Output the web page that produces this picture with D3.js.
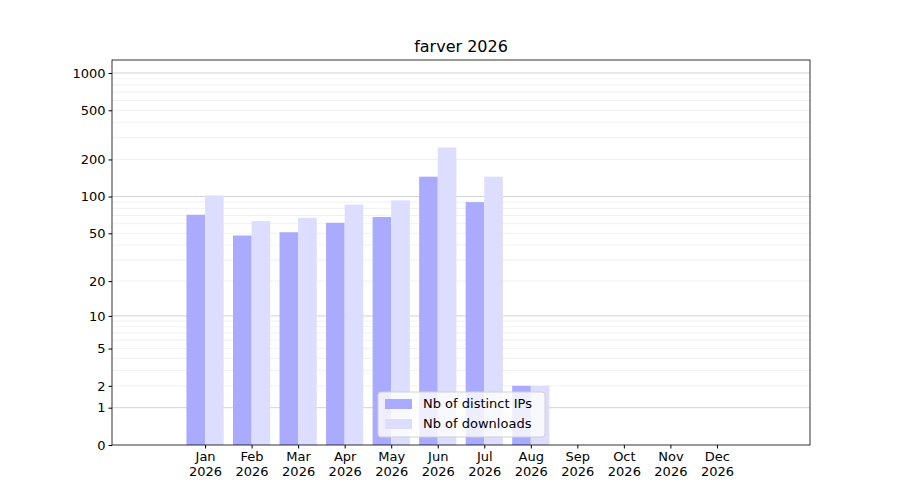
<!DOCTYPE html>
<html><head><meta charset="utf-8">
<script src="https://cdn.jsdelivr.net/npm/d3@7"></script>
<style>body{margin:0;background:#fff}text{font-family:"DejaVu Sans",sans-serif}</style>
</head><body><svg width="900" height="500"></svg>
<script>
const months = ["Jan","Feb","Mar","Apr","May","Jun","Jul","Aug","Sep","Oct","Nov","Dec"];
const ips = [71,48,51,61,68,145,90,2,0,0,0,0];
const downloads = [102,63,67,86,93,250,145,2,0,0,0,0];
const yTicks = [0,1,2,5,10,20,50,100,200,500,1000];

const svg = d3.select("svg");
const mLeft = 112, mRight = 810, mTop = 60, mBottom = 445;

const x = d3.scalePoint().domain(months).range([mLeft, mRight]).padding(2);
const y = d3.scaleSymlog().constant(1).domain([0, 1274]).range([mBottom, mTop]);
const bw = x.step() * 0.4;

// grid
const minor = [];
[1,10,100,1000].forEach(p => { for (let k = 2; k <= 9; k++) if (p*k < 1274) minor.push(p*k); });
svg.append("g").selectAll("line").data(minor).enter().append("line")
    .attr("x1", mLeft).attr("x2", mRight)
    .attr("y1", d => y(d)).attr("y2", d => y(d))
    .attr("stroke", "#eeeeee").attr("stroke-width", 0.8);
svg.append("g").selectAll("line").data([1,10,100,1000]).enter().append("line")
    .attr("x1", mLeft).attr("x2", mRight)
    .attr("y1", d => y(d)).attr("y2", d => y(d))
    .attr("stroke", "#c8c8c8").attr("stroke-width", 0.8);

svg.append("g").selectAll("rect").data(ips).enter().append("rect")
    .attr("x", (d, i) => x(months[i]) - bw).attr("width", bw)
    .attr("y", d => y(d)).attr("height", d => mBottom - y(d))
    .attr("fill", "#aaaaff");
svg.append("g").selectAll("rect").data(downloads).enter().append("rect")
    .attr("x", (d, i) => x(months[i])).attr("width", bw)
    .attr("y", d => y(d)).attr("height", d => mBottom - y(d))
    .attr("fill", "#ddddff");

// axes
const yAxis = svg.append("g").attr("transform", `translate(${mLeft},0)`)
    .call(d3.axisLeft(y).tickValues(yTicks).tickFormat(d3.format("d")).tickSizeOuter(0).tickSize(3.5));
const xAxis = svg.append("g").attr("transform", `translate(0,${mBottom})`)
    .call(d3.axisBottom(x).tickSizeOuter(0).tickSize(3.5));
[yAxis, xAxis].forEach(g => {
    g.select(".domain").remove();
    g.selectAll("text").attr("font-size", 13).attr("fill", "#000").style("font-family", "DejaVu Sans");
});
xAxis.selectAll(".tick text").each(function(d) {
    const t = d3.select(this).text(null).attr("y", 7);
    t.append("tspan").attr("x", 0).attr("dy", "0.71em").text(d);
    t.append("tspan").attr("x", 0).attr("dy", "1.15em").text("2026");
});
svg.append("rect").attr("x", mLeft).attr("y", mTop).attr("width", mRight-mLeft).attr("height", mBottom-mTop)
    .attr("fill", "none").attr("stroke", "#000").attr("stroke-width", 0.8);

svg.append("text").attr("x", (mLeft+mRight)/2).attr("y", 52).attr("text-anchor", "middle")
    .attr("font-size", 16).text("farver 2026");

// legend
const lg = svg.append("g").attr("transform", "translate(378,392)");
lg.append("rect").attr("width", 167).attr("height", 45).attr("rx", 3)
    .attr("fill", "#fff").attr("fill-opacity", 0.8).attr("stroke", "#d0d0d0");
[["Nb of distinct IPs", "#aaaaff"], ["Nb of downloads", "#ddddff"]].forEach((e, i) => {
    lg.append("rect").attr("x", 7).attr("y", 7 + i*20).attr("width", 27).attr("height", 10).attr("fill", e[1]);
    lg.append("text").attr("x", 45).attr("y", 16 + i*20).attr("font-size", 13).text(e[0]);
});
</script></body></html>
